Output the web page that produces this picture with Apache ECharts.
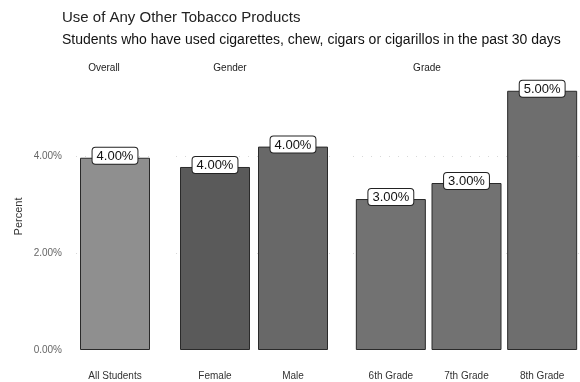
<!DOCTYPE html>
<html>
<head>
<meta charset="utf-8">
<script src="https://cdn.jsdelivr.net/npm/echarts@6/dist/echarts.min.js"></script>
<style>
  html, body { margin: 0; padding: 0; background: #fff; }
  #chart { width: 580px; height: 382px; }
</style>
</head>
<body>
<div id="chart"></div>
<script>
  // values (bar heights), labels show rounded %
  var overallCats = ['All Students'];
  var overallVals = [3.96];
  var genderCats = ['Female', 'Male'];
  var genderVals = [3.77, 4.19];
  var gradeCats = ['6th Grade', '7th Grade', '8th Grade'];
  var gradeVals = [3.11, 3.44, 5.34];
  var panelNames = ['Overall', 'Gender', 'Grade'];
  var gridLines = [2, 4];

  var font = '"Liberation Sans", Arial, sans-serif';
  var myChart = echarts.init(document.getElementById('chart'));

  var grids = [
    {left: 76, width: 78, top: 83, bottom: 32},
    {left: 176, width: 156, top: 83, bottom: 32},
    {left: 353, width: 234, top: 83, bottom: 32}
  ];
  var cats = [overallCats, genderCats, gradeCats];
  var vals = [overallVals, genderVals, gradeVals];
  var colors = [['#8f8f8f'], ['#5a5a5a', '#686868'], ['#727272', '#727272', '#6e6e6e']];

  var xAxes = [], yAxes = [], series = [];
  for (var i = 0; i < 3; i++) {
    xAxes.push({
      type: 'category',
      gridIndex: i,
      data: cats[i],
      axisLine: {show: false},
      axisTick: {show: false},
      axisLabel: {fontFamily: font, fontSize: 10, color: '#333', margin: 21}
    });
    yAxes.push({
      type: 'value',
      gridIndex: i,
      min: 0,
      max: 5.5,
      interval: 2,
      name: i === 0 ? 'Percent' : '',
      nameLocation: 'middle',
      nameGap: 52,
      nameTextStyle: {fontFamily: font, fontSize: 11, color: '#333'},
      splitLine: {show: false},
      axisLine: {show: false},
      axisTick: {show: false},
      axisLabel: {
        show: i === 0,
        fontFamily: font,
        fontSize: 10,
        color: '#666',
        margin: 14,
        formatter: function (v) {
          return v % 2 === 0 ? v.toFixed(2) + '%' : '';
        }
      }
    });
    series.push({
      type: 'bar',
      xAxisIndex: i,
      yAxisIndex: i,
      barWidth: 70,
      data: vals[i].map(function (v, j) {
        return {value: v, itemStyle: {color: colors[i][j]}};
      }),
      itemStyle: {borderColor: '#2a2a2a', borderWidth: 1},
      label: {
        show: true,
        position: 'top',
        distance: -6,
        fontFamily: font,
        fontSize: 13,
        color: '#111',
        backgroundColor: '#fff',
        borderColor: '#222',
        borderWidth: 1,
        borderRadius: 3,
        padding: [2, 4, 1, 4],
        formatter: function (p) {
          return Math.round(p.value).toFixed(2) + '%';
        }
      },
      markLine: {
        silent: true,
        symbol: 'none',
        z: 1,
        label: {show: false},
        lineStyle: {color: '#d8d8d8', type: [1, 8], width: 1},
        data: gridLines.map(function (g) { return {yAxis: g}; })
      }
    });
  }

  var option = {
    animation: false,
    backgroundColor: '#fff',
    title: [
      {
        text: 'Use of Any Other Tobacco Products',
        left: 57,
        top: 5,
        textStyle: {fontFamily: font, fontSize: 15, fontWeight: 'normal', color: '#222'}
      },
      {
        text: 'Students who have used cigarettes, chew, cigars or cigarillos in the past 30 days',
        left: 57,
        top: 28,
        textStyle: {fontFamily: font, fontSize: 14, fontWeight: 'normal', color: '#111'}
      }
    ],
    graphic: [
      {type: 'text', x: 104, y: 63, style: {text: panelNames[0], align: 'center', font: '10px ' + font, fill: '#222'}},
      {type: 'text', x: 230, y: 63, style: {text: panelNames[1], align: 'center', font: '10px ' + font, fill: '#222'}},
      {type: 'text', x: 427, y: 63, style: {text: panelNames[2], align: 'center', font: '10px ' + font, fill: '#222'}}
    ],
    grid: grids,
    xAxis: xAxes,
    yAxis: yAxes,
    series: series
  };
  myChart.setOption(option);
</script>
</body>
</html>
